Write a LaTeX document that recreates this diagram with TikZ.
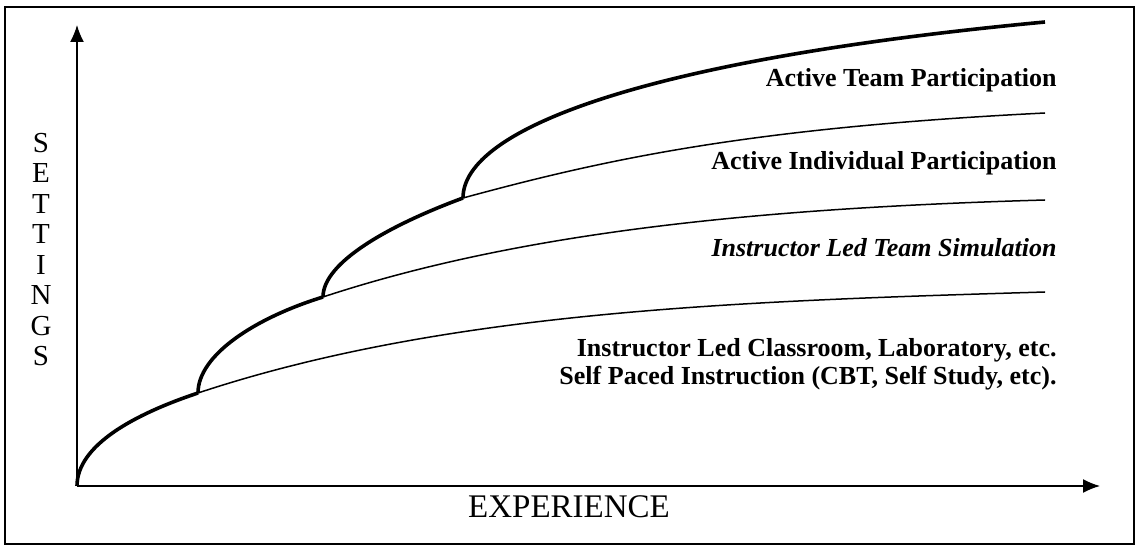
\documentclass[tikz,border=0pt]{standalone}
\usepackage{fontspec}
\setmainfont{Liberation Serif}
\usetikzlibrary{arrows.meta}

\tikzset{
  axis/.style={line width=0.75pt,-{Latex[length=8.5pt,width=7pt]}},
  trackline/.style={line width=0.75pt},
  stepcurve/.style={line width=1.8pt},
  level/.style={anchor=east,inner sep=0pt,font=\fontsize{13}{15}\selectfont\bfseries},
  axislabel/.style={inner sep=0pt,font=\fontsize{14.5}{17}\selectfont}
}

\begin{document}
\begin{tikzpicture}[x=0.5pt,y=-0.5pt]
  \useasboundingbox (0,0) rectangle (1139,549);
  \draw[line width=0.8pt] (5,7) rectangle (1134,544);

  % axes
  \coordinate (O) at (77,486);
  \coordinate (ytip) at (77,25);
  \coordinate (xtip) at (1100,486);
  \draw[axis] (O) -- (ytip);
  \draw[axis] (O) -- (xtip);

  % branch points and line ends
  \coordinate (b1) at (198,393);
  \coordinate (b2) at (323,297);
  \coordinate (b3) at (463,198);
  \coordinate (endC) at (1045,292);
  \coordinate (endB) at (1045,200);
  \coordinate (endA) at (1045,113);
  \coordinate (endT) at (1045,22);

  % thin levels
  \draw[trackline] (b1) .. controls (448,310) and (745,301) .. (endC);
  \draw[trackline] (b2) .. controls (523,231) and (765,208) .. (endB);
  \draw[trackline] (b3) .. controls (603,160) and (745,128) .. (endA);

  % thick steps
  \draw[stepcurve] (O) .. controls (77,445) and (135,414) .. (b1);
  \draw[stepcurve] (b1) .. controls (198,355) and (255,318) .. (b2);
  \draw[stepcurve] (b2) .. controls (323,262) and (390,225) .. (b3);
  \draw[stepcurve] (b3) .. controls (463,130) and (640,60) .. (endT);

  % labels
  \node[level] (team) at (1057,80) {Active Team Participation};
  \node[level] (indiv) at (1057,163) {Active Individual Participation};
  \node[level,font=\fontsize{13}{15}\selectfont\bfseries\itshape] (sim) at (1057,248) {Instructor Led Team Simulation};
  \node[level] (class) at (1057,350) {Instructor Led Classroom, Laboratory, etc.};
  \node[level] (self) at (1057,378) {Self Paced Instruction (CBT, Self Study, etc).};

  \node[axislabel,font=\fontsize{16.5}{19}\selectfont] (xlab) at (569,507) {EXPERIENCE};
  \foreach \ch [count=\i from 0] in {S,E,T,T,I,N,G,S}
    \node[axislabel] (set\i) at (41,143+30.5*\i) {\ch};
\end{tikzpicture}
\end{document}
